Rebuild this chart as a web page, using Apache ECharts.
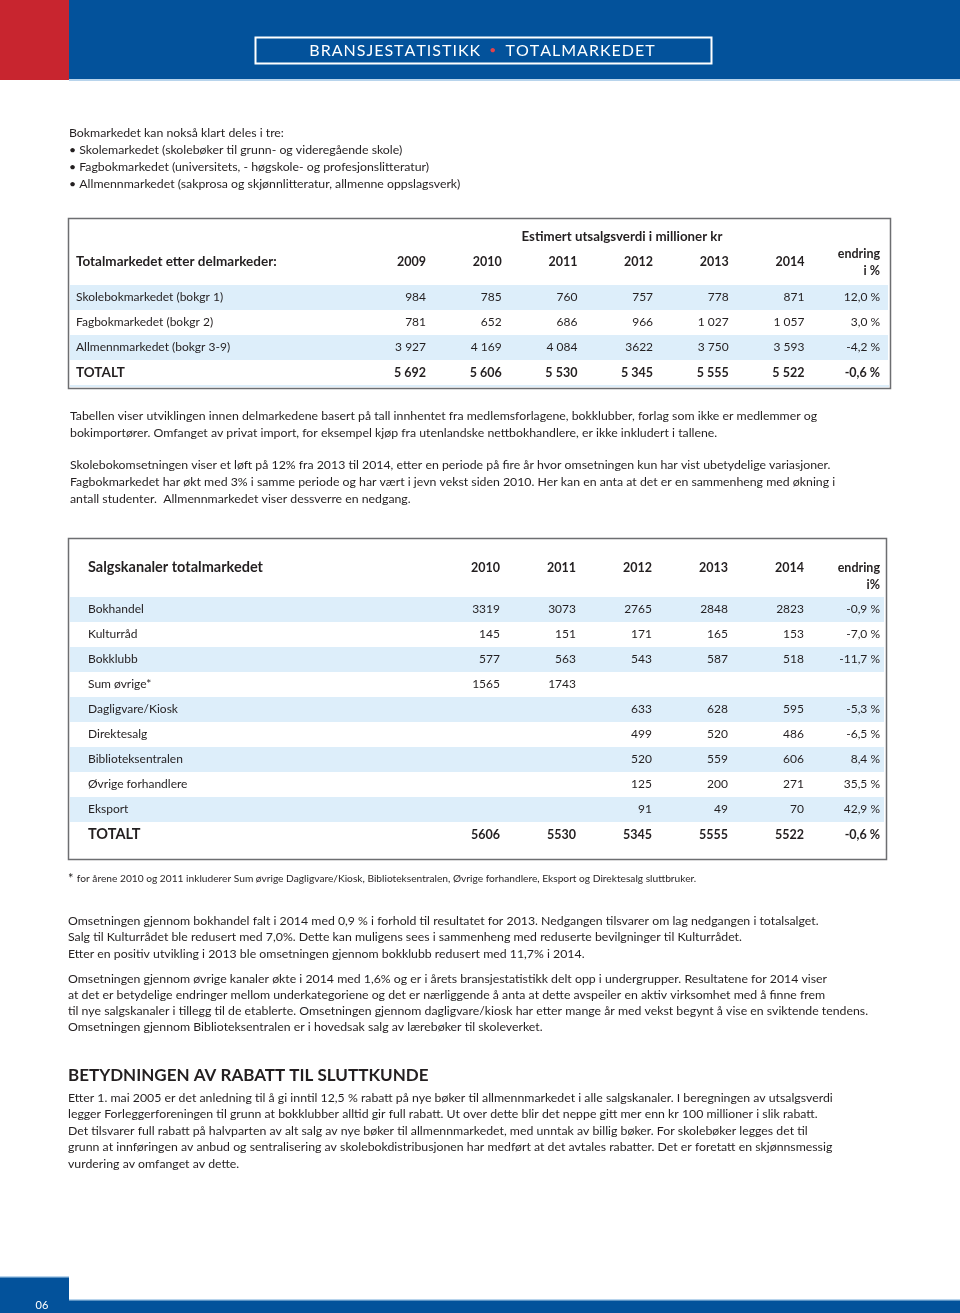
<!DOCTYPE html>
<html>
<head>
<meta charset="utf-8">
<script src="https://cdn.jsdelivr.net/npm/echarts@6/dist/echarts.min.js"></script>
<style>
html,body{margin:0;padding:0;background:#fff;}
#c{width:960px;height:1313px;}
</style>
</head>
<body>
<div id="c"></div>
<script>
// ---------- DATA ----------
const t1Title = 'Estimert utsalgsverdi i millioner kr';
const t1Head = 'Totalmarkedet etter delmarkeder:';
const t1Cols = ['2009', '2010', '2011', '2012', '2013', '2014', 'endring\ni %'];
const t1Rows = ['Skolebokmarkedet (bokgr 1)', 'Fagbokmarkedet (bokgr 2)', 'Allmennmarkedet (bokgr 3-9)', 'TOTALT'];
const t1Skole   = ['984', '785', '760', '757', '778', '871', '12,0 %'];
const t1Fag     = ['781', '652', '686', '966', '1 027', '1 057', '3,0 %'];
const t1Allmenn = ['3 927', '4 169', '4 084', '3622', '3 750', '3 593', '-4,2 %'];
const t1Total   = ['5 692', '5 606', '5 530', '5 345', '5 555', '5 522', '-0,6 %'];

const t2Head = 'Salgskanaler totalmarkedet';
const t2Cols = ['2010', '2011', '2012', '2013', '2014', 'endring\ni%'];
const t2Rows = ['Bokhandel', 'Kulturråd', 'Bokklubb', 'Sum øvrige*', 'Dagligvare/Kiosk', 'Direktesalg',
                'Biblioteksentralen', 'Øvrige forhandlere', 'Eksport', 'TOTALT'];
const t2Bokhandel  = ['3319', '3073', '2765', '2848', '2823', '-0,9 %'];
const t2Kulturraad = ['145', '151', '171', '165', '153', '-7,0 %'];
const t2Bokklubb   = ['577', '563', '543', '587', '518', '-11,7 %'];
const t2SumOvrige  = ['1565', '1743', '', '', '', ''];
const t2Dagligvare = ['', '', '633', '628', '595', '-5,3 %'];
const t2Direkte    = ['', '', '499', '520', '486', '-6,5 %'];
const t2Biblio     = ['', '', '520', '559', '606', '8,4 %'];
const t2OvrigeF    = ['', '', '125', '200', '271', '35,5 %'];
const t2Eksport    = ['', '', '91', '49', '70', '42,9 %'];
const t2Total      = ['5606', '5530', '5345', '5555', '5522', '-0,6 %'];

// ---------- STYLE ----------
const FONT = 'Lato, "Open Sans", "DejaVu Sans", sans-serif';
const TXT = '#231f20';
const BLUE = '#03529b';
const RED = '#c8252f';
const LIGHT = '#b8d4ec';
const STRIPE = '#ddeefa';
const BODY = 12.3;

const t1Data = [t1Skole, t1Fag, t1Allmenn, t1Total];
const t2Data = [t2Bokhandel, t2Kulturraad, t2Bokklubb, t2SumOvrige, t2Dagligvare, t2Direkte,
                t2Biblio, t2OvrigeF, t2Eksport, t2Total];

function cellsFrom(rows) {
  const out = [];
  rows.forEach((r, ri) => r.forEach((v, ci) => {
    if (v !== '') out.push([ci, ri, v, ri === rows.length - 1]);
  }));
  return out;
}
const t1Cells = cellsFrom(t1Data);
const t2Cells = cellsFrom(t2Data);

function cellSeries(idx, cells) {
  return {
    type: 'custom', xAxisIndex: idx, yAxisIndex: idx, silent: true, z: 5,
    data: cells.map(c => [c[0], c[1]]), encode: { x: 0, y: 1 },
    renderItem: function (params, api) {
      const c = cells[params.dataIndex];
      const p = api.coord([api.value(0), api.value(1)]);
      return { type: 'text', x: p[0], y: p[1],
        style: { text: c[2], align: 'right', verticalAlign: 'middle', fontFamily: FONT,
                 fontSize: c[3] ? 12.5 : 12, fontWeight: c[3] ? 'bold' : 'normal', fill: TXT } };
    }
  };
}
function stripeSeries(idx, rowIdx) {
  return {
    type: 'custom', xAxisIndex: idx, yAxisIndex: idx, silent: true, z: 0,
    data: rowIdx.map(r => [0, r]), encode: { x: 0, y: 1 },
    renderItem: function (params, api) {
      const p = api.coord([0, api.value(1)]);
      const h = api.size([0, 1])[1];
      return { type: 'rect', shape: { x: params.coordSys.x, y: p[1] - h / 2, width: params.coordSys.width, height: h },
               style: { fill: STRIPE } };
    }
  };
}
function rowLabelAxis(gridIdx, rows, margin, totSize) {
  return {
    type: 'category', gridIndex: gridIdx, data: rows, inverse: true, z: 10,
    axisLine: { show: false }, axisTick: { show: false }, splitLine: { show: false },
    axisLabel: { inside: true, margin: margin, interval: 0, fontFamily: FONT, fontSize: 12, color: TXT,
      formatter: v => v === 'TOTALT' ? '{b|TOTALT}' : v,
      rich: { b: { fontFamily: FONT, fontSize: totSize, fontWeight: 'bold', color: TXT } } }
  };
}
function hiddenY(gridIdx, rows) {
  return { type: 'category', gridIndex: gridIdx, data: rows, inverse: true, show: false };
}
function colAxis(gridIdx, cols, vAlign, margin) {
  return {
    type: 'category', gridIndex: gridIdx, data: cols, position: 'top',
    axisLine: { show: false }, axisTick: { show: false }, splitLine: { show: false },
    axisLabel: { interval: 0, align: 'right', verticalAlign: vAlign, margin: margin, lineHeight: 17,
                 fontFamily: FONT, fontSize: 12.5, fontWeight: 'bold', color: TXT }
  };
}

function para(x, yFirst, lh, lines, size, weight) {
  return { type: 'text', x: x, y: yFirst - lh / 2, silent: true,
    style: { text: lines.join('\n'), fontFamily: FONT, fontSize: size || BODY, fontWeight: weight || 'normal',
             lineHeight: lh, fill: TXT, align: 'left', verticalAlign: 'top' } };
}
function spaced(s) { return s.split('').join('\u200A'); }

const graphics = [
  { type: 'rect', shape: { x: 0, y: 0, width: 69, height: 80 }, style: { fill: RED } },
  { type: 'rect', shape: { x: 69, y: 0, width: 891, height: 80 }, style: { fill: BLUE } },
  { type: 'rect', shape: { x: 69, y: 79, width: 891, height: 2 }, style: { fill: LIGHT } },
  { type: 'rect', shape: { x: 255.5, y: 37.5, width: 456, height: 26 }, style: { fill: 'none', stroke: '#ffffff', lineWidth: 2 } },
  { type: 'text', x: 482, y: 50.5, style: { text: '{w|' + spaced('BRANSJESTATISTIKK') + '}{r|   •   }{w|' + spaced('TOTALMARKEDET') + '}',
      align: 'center', verticalAlign: 'middle',
      rich: { w: { fontFamily: FONT, fontSize: 16, fill: '#ffffff', color: '#ffffff' },
              r: { fontFamily: FONT, fontSize: 12, fill: '#e2424b', color: '#e2424b' } } } },
  // footer
  { type: 'rect', shape: { x: 0, y: 1277, width: 69, height: 36 }, style: { fill: BLUE } },
  { type: 'rect', shape: { x: 69, y: 1300, width: 891, height: 13 }, style: { fill: BLUE } },
  { type: 'rect', shape: { x: 0, y: 1276, width: 69, height: 1.5 }, style: { fill: LIGHT } },
  { type: 'rect', shape: { x: 69, y: 1299, width: 891, height: 1.5 }, style: { fill: LIGHT } },
  { type: 'text', x: 42, y: 1305, style: { text: '06', fontFamily: FONT, fontSize: 11, fill: '#ffffff', align: 'center', verticalAlign: 'middle' } },
  // table borders
  { type: 'rect', z: 10, shape: { x: 68.5, y: 218.5, width: 822, height: 170 }, style: { fill: 'none', stroke: '#6d6e71', lineWidth: 1.5 } },
  { type: 'rect', z: 10, shape: { x: 68.5, y: 538.5, width: 818, height: 321 }, style: { fill: 'none', stroke: '#6d6e71', lineWidth: 1.5 } },
  { type: 'rect', shape: { x: 70, y: 385, width: 819, height: 2 }, style: { fill: STRIPE } },
  // table headers
  { type: 'text', x: 622, y: 237, style: { text: t1Title, fontFamily: FONT, fontSize: 13.3, fontWeight: 'bold', fill: TXT, align: 'center', verticalAlign: 'middle' } },
  { type: 'text', x: 76, y: 262, style: { text: t1Head, fontFamily: FONT, fontSize: 13.5, fontWeight: 'bold', fill: TXT, align: 'left', verticalAlign: 'middle' } },
  { type: 'text', x: 88, y: 567, style: { text: t2Head, fontFamily: FONT, fontSize: 14.5, fontWeight: 'bold', fill: TXT, align: 'left', verticalAlign: 'middle' } },
  // body text
  para(69, 133, 17, [
    'Bokmarkedet kan nokså klart deles i tre:',
    '• Skolemarkedet (skolebøker til grunn- og videregående skole)',
    '• Fagbokmarkedet (universitets, - høgskole- og profesjonslitteratur)',
    '• Allmennmarkedet (sakprosa og skjønnlitteratur, allmenne oppslagsverk)'
  ]),
  para(70, 416, 17, [
    'Tabellen viser utviklingen innen delmarkedene basert på tall innhentet fra medlemsforlagene, bokklubber, forlag som ikke er medlemmer og',
    'bokimportører. Omfanget av privat import, for eksempel kjøp fra utenlandske nettbokhandlere, er ikke inkludert i tallene.'
  ]),
  para(70, 465, 17, [
    'Skolebokomsetningen viser et løft på 12% fra 2013 til 2014, etter en periode på fire år hvor omsetningen kun har vist ubetydelige variasjoner.',
    'Fagbokmarkedet har økt med 3% i samme periode og har vært i jevn vekst siden 2010. Her kan en anta at det er en sammenheng med økning i',
    'antall studenter.  Allmennmarkedet viser dessverre en nedgang.'
  ]),
  { type: 'text', x: 68, y: 879, style: { text: '{a|*} {f|for årene 2010 og 2011 inkluderer Sum øvrige Dagligvare/Kiosk, Biblioteksentralen, Øvrige forhandlere, Eksport og Direktesalg sluttbruker.}',
      verticalAlign: 'middle', align: 'left',
      rich: { a: { fontFamily: FONT, fontSize: 13, fill: TXT, color: TXT }, f: { fontFamily: FONT, fontSize: 10.2, fill: TXT, color: TXT } } } },
  para(68, 921, 16.5, [
    'Omsetningen gjennom bokhandel falt i 2014 med 0,9 % i forhold til resultatet for 2013. Nedgangen tilsvarer om lag nedgangen i totalsalget.',
    'Salg til Kulturrådet ble redusert med 7,0%. Dette kan muligens sees i sammenheng med reduserte bevilgninger til Kulturrådet.',
    'Etter en positiv utvikling i 2013 ble omsetningen gjennom bokklubb redusert med 11,7% i 2014.'
  ]),
  para(68, 979, 16, [
    'Omsetningen gjennom øvrige kanaler økte i 2014 med 1,6% og er i årets bransjestatistikk delt opp i undergrupper. Resultatene for 2014 viser',
    'at det er betydelige endringer mellom underkategoriene og det er nærliggende å anta at dette avspeiler en aktiv virksomhet med å finne frem',
    'til nye salgskanaler i tillegg til de etablerte. Omsetningen gjennom dagligvare/kiosk har etter mange år med vekst begynt å vise en sviktende tendens.',
    'Omsetningen gjennom Biblioteksentralen er i hovedsak salg av lærebøker til skoleverket.'
  ]),
  para(68, 1076, 20, ['BETYDNINGEN AV RABATT TIL SLUTTKUNDE'], 17, 'bold'),
  para(68, 1098, 16.5, [
    'Etter 1. mai 2005 er det anledning til å gi inntil 12,5 % rabatt på nye bøker til allmennmarkedet i alle salgskanaler. I beregningen av utsalgsverdi',
    'legger Forleggerforeningen til grunn at bokklubber alltid gir full rabatt. Ut over dette blir det neppe gitt mer enn kr 100 millioner i slik rabatt.',
    'Det tilsvarer full rabatt på halvparten av alt salg av nye bøker til allmennmarkedet, med unntak av billig bøker. For skolebøker legges det til',
    'grunn at innføringen av anbud og sentralisering av skolebokdistribusjonen har medført at det avtales rabatter. Det er foretatt en skjønnsmessig',
    'vurdering av omfanget av dette.'
  ])
];

const chart = echarts.init(document.getElementById('c'), null, { renderer: 'canvas' });
chart.setOption({
  animation: false,
  backgroundColor: '#ffffff',
  grid: [
    { left: 70, width: 818, top: 285, height: 100 },          // 0: table 1 stripes + row labels
    { left: 388.2, width: 529.7, top: 285, height: 100 },     // 1: table 1 numbers
    { left: 70, width: 814, top: 597, height: 250 },          // 2: table 2 stripes + row labels
    { left: 462, width: 456, top: 597, height: 250 }          // 3: table 2 numbers
  ],
  xAxis: [
    { type: 'category', gridIndex: 0, data: ['r'], show: false },
    colAxis(1, t1Cols, 'middle', 23),
    { type: 'category', gridIndex: 2, data: ['r'], show: false },
    colAxis(3, t2Cols, 'top', 38)
  ],
  yAxis: [
    rowLabelAxis(0, t1Rows, 6, 13.5),
    hiddenY(1, t1Rows),
    rowLabelAxis(2, t2Rows, 18, 14.5),
    hiddenY(3, t2Rows)
  ],
  series: [
    stripeSeries(0, [0, 2]),
    cellSeries(1, t1Cells),
    stripeSeries(2, [0, 2, 4, 6, 8]),
    cellSeries(3, t2Cells)
  ],
  graphic: graphics
});
</script>
</body>
</html>
